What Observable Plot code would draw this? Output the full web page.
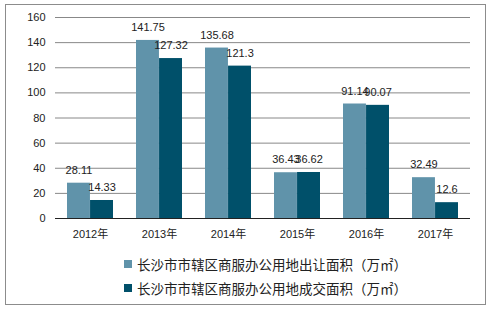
<!DOCTYPE html>
<html>
<head>
<meta charset="utf-8">
<script src="https://cdn.jsdelivr.net/npm/d3@7"></script>
<script src="https://cdn.jsdelivr.net/npm/@observablehq/plot@0.6"></script>
<style>
  body { margin: 0; background: #fff; font-family: "Liberation Sans", "Noto Sans CJK SC", sans-serif; }
  #wrap { position: relative; width: 492px; height: 309px; overflow: hidden; }
  #frame { position: absolute; left: 5px; top: 4px; width: 481px; height: 301px; box-sizing: border-box; border: 1px solid #8c8c8c; }
  #chart { position: absolute; left: 0; top: 0; }
  #legend { position: absolute; left: 124px; top: 252px; font-size: 13.5px; color: #222; font-family: "Noto Sans CJK SC", sans-serif; }
  .item { display: flex; align-items: center; height: 24px; }
  .sw { width: 8px; height: 8px; margin-right: 5px; }
</style>
</head>
<body>
<div id="wrap">
  <div id="frame"></div>
  <div id="chart"></div>
  <div id="legend"></div>
</div>
<script>
const years = ["2012年", "2013年", "2014年", "2015年", "2016年", "2017年"];
const supplied = [28.11, 141.75, 135.68, 36.43, 91.14, 32.49];
const traded = [14.33, 127.32, 121.3, 36.62, 90.07, 12.6];
const seriesNames = ["长沙市市辖区商服办公用地出让面积（万㎡）", "长沙市市辖区商服办公用地成交面积（万㎡）"];
const colors = ["#6093aa", "#00506a"];
const yTicks = [0, 20, 40, 60, 80, 100, 120, 140, 160];

const dataA = years.map((y, i) => ({year: y, value: supplied[i]}));
const dataB = years.map((y, i) => ({year: y, value: traded[i]}));

const W = 492, ML = 55, MR = 22;
const step = (W - ML - MR) / years.length;
const bw = step * (2 / 3);
const half = bw / 2;

const chart = Plot.plot({
  width: W,
  height: 245,
  marginLeft: ML,
  marginRight: MR,
  marginTop: 17,
  marginBottom: 27,
  style: { fontFamily: '"Liberation Sans", "Noto Sans CJK SC", sans-serif', fontSize: "11px", color: "#222", background: "transparent" },
  x: { domain: years, paddingInner: 1 / 3, paddingOuter: 1 / 6, label: null, tickSize: 0, tickPadding: 12 },
  y: { domain: [0, 160], ticks: yTicks, label: null, tickSize: 0, tickPadding: 10 },
  marks: [
    Plot.ruleY(yTicks.filter(d => d > 0), { stroke: "#888", strokeWidth: 1 }),
    Plot.barY(dataA, { x: "year", y: "value", fill: colors[0], insetRight: half }),
    Plot.barY(dataB, { x: "year", y: "value", fill: colors[1], insetLeft: half }),
    Plot.ruleY([0], { stroke: "#222", strokeWidth: 1 }),
    Plot.text(dataA, { x: "year", y: "value", text: d => String(d.value), dx: -half / 2, dy: -13, fill: "#222", fontSize: 11 }),
    Plot.text(dataB, { x: "year", y: "value", text: d => String(d.value), dx: half / 2, dy: -13, fill: "#222", fontSize: 11 })
  ]
});
document.getElementById("chart").appendChild(chart);

const legend = document.getElementById("legend");
seriesNames.forEach((name, i) => {
  const item = document.createElement("div");
  item.className = "item";
  const sw = document.createElement("span");
  sw.className = "sw";
  sw.style.background = colors[i];
  const t = document.createElement("span");
  t.textContent = name;
  item.appendChild(sw);
  item.appendChild(t);
  legend.appendChild(item);
});
</script>
</body>
</html>
